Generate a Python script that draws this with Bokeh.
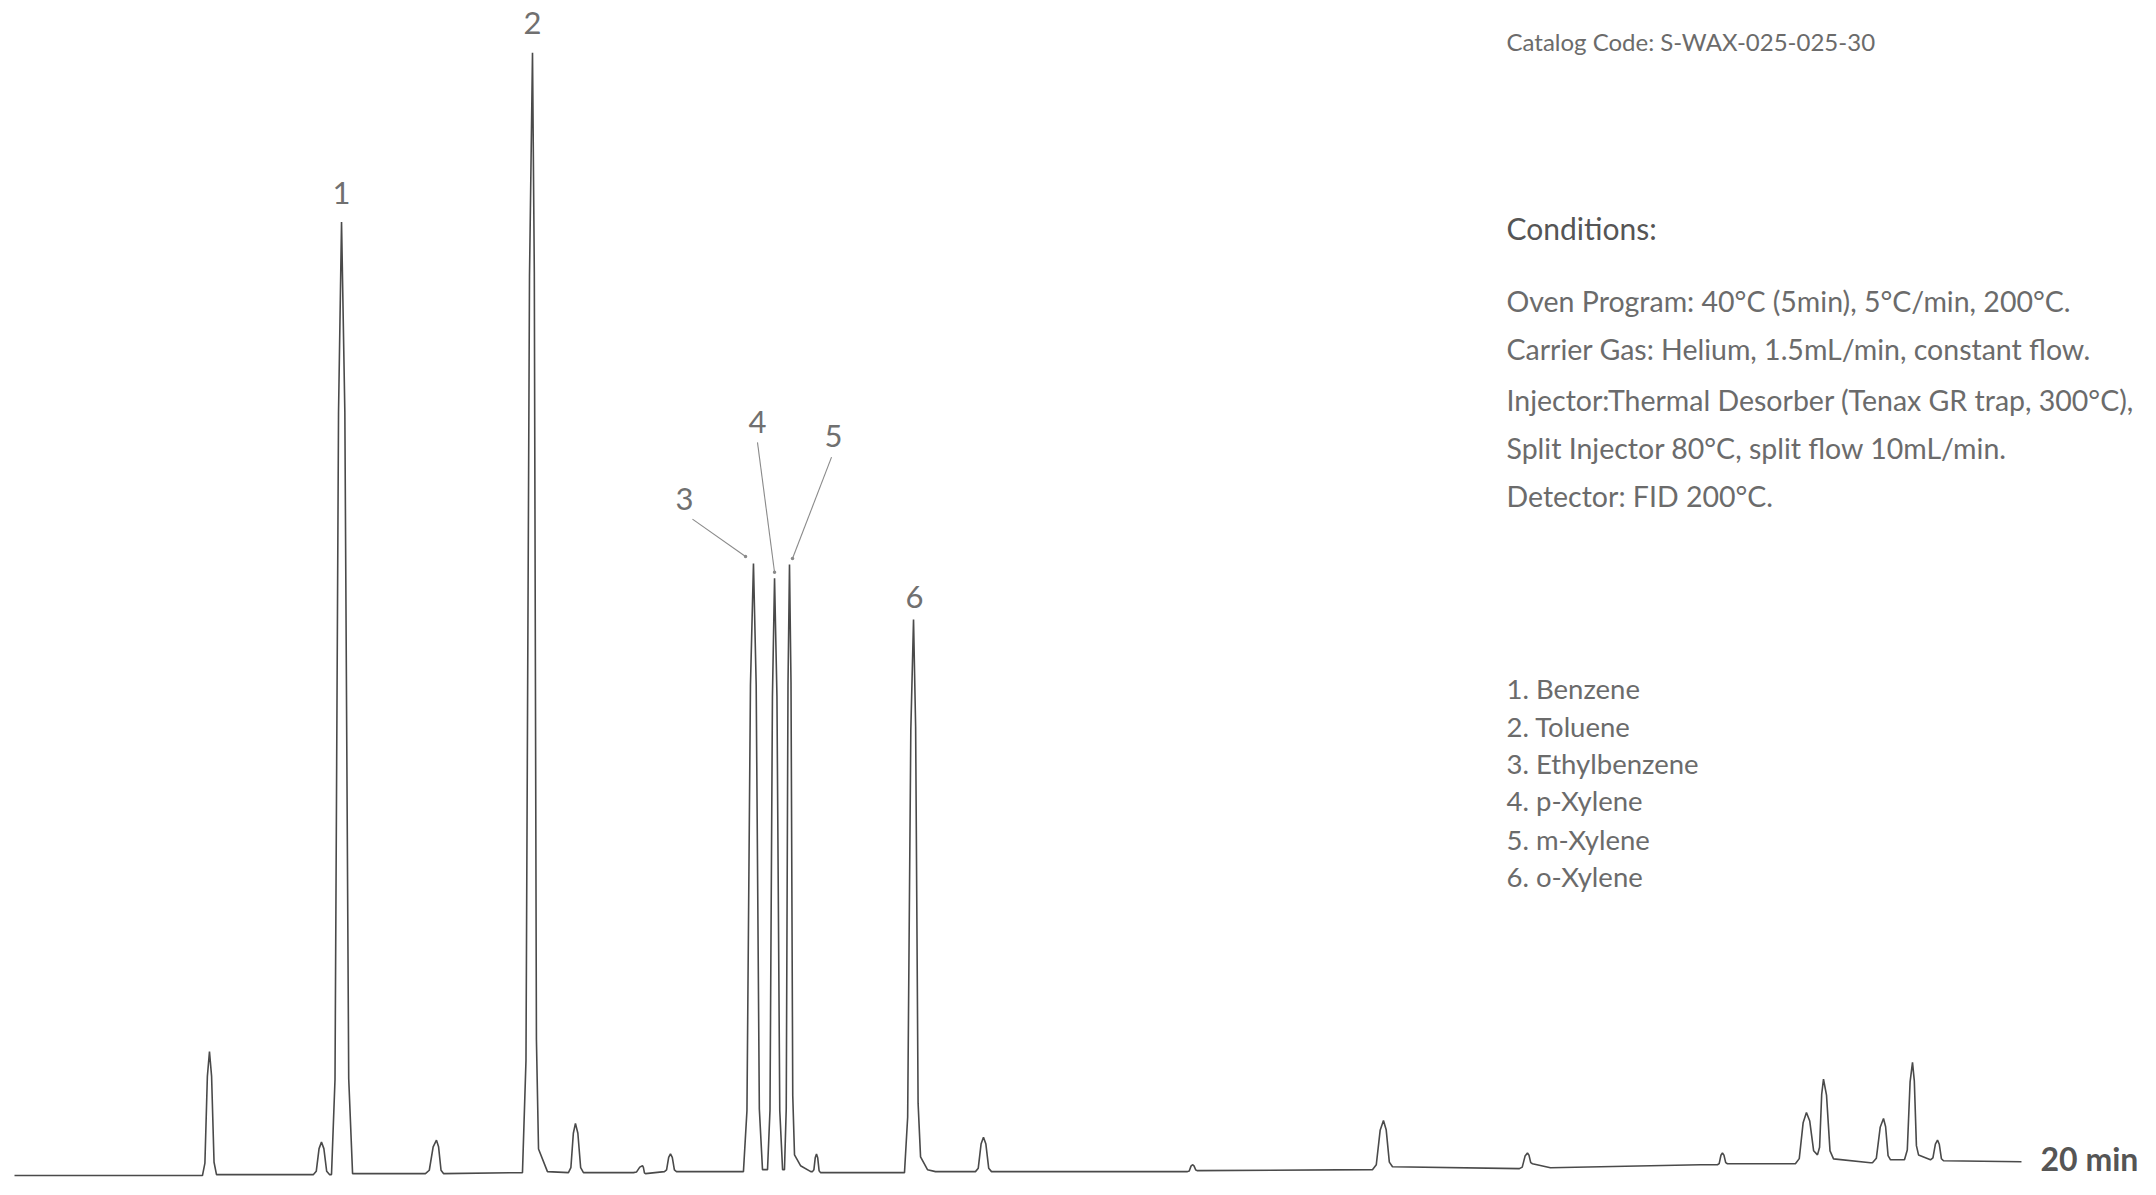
import numpy as np
from bokeh.plotting import figure
from bokeh.models import Range1d, ColumnDataSource
from bokeh.core.properties import value
from bokeh.embed import file_html
from bokeh.resources import INLINE

# ---------------- data ----------------
# retention time of each peak apex (min)
peak_rt = [1.943, 3.059, 3.259, 4.205, 5.162, 5.590, 6.258, 6.537, 7.364, 7.574,
           7.723, 7.992, 8.959, 9.656, 11.739, 13.642, 15.077, 17.020, 17.857,
           18.027, 18.625, 18.914, 19.163]
# detector signal at apex (a.u.)
peak_apex = [127, 35, 970, 37, 1142, 54, 11, 23, 623, 608,
             622, 23, 566, 40, 12, 57, 24, 24, 65,
             99, 59, 116, 37]
# half width at base, left / right (min)
peak_wl = [0.07, 0.08, 0.10, 0.11, 0.10, 0.07, 0.09, 0.06, 0.10, 0.07,
           0.05, 0.04, 0.09, 0.08, 0.05, 0.11, 0.08, 0.05, 0.11,
           0.06, 0.11, 0.08, 0.07]
peak_wr = [0.07, 0.08, 0.11, 0.07, 0.06, 0.08, 0.03, 0.06, 0.09, 0.08,
           0.05, 0.04, 0.07, 0.08, 0.05, 0.09, 0.05, 0.05, 0.11,
           0.10, 0.07, 0.06, 0.06]
# signal level at left / right foot of each peak
base_l = [1, 2, 2, 3, 4, 4, 4, 5, 5, 7, 7, 5, 4, 5, 5, 7, 8, 12, 13, 22, 14, 17, 17]
base_r = [2, 2, 3, 3, 28, 4, 3, 5, 7, 7, 22, 4, 20, 5, 6, 10, 13, 13, 22, 18, 17, 22, 16]
# baseline points between peaks (tails, drift)
base_t = [0.0, 5.311, 7.833, 7.935, 9.098, 9.178, 15.306, 16.801, 18.495, 20.0]
base_v = [1, 5, 11, 5, 7, 5, 9, 12, 14, 15]

# labelled compounds
compound_names = ["Benzene", "Toluene", "Ethylbenzene", "p-Xylene", "m-Xylene", "o-Xylene"]
compound_peak = [2, 4, 8, 9, 10, 12]

conditions = [
    "Oven Program: 40°C (5min), 5°C/min, 200°C.",
    "Carrier Gas: Helium, 1.5mL/min, constant flow.",
    "Injector:Thermal Desorber (Tenax GR trap, 300°C),",
    "Split Injector 80°C, split flow 10mL/min.",
    "Detector: FID 200°C.",
]
catalog = "Catalog Code: S-WAX-025-025-30"

# ---------------- build the trace from the peak table ----------------
SHAPE_W = [-1.0, -0.65, -0.3, 0.0, 0.3, 0.65, 1.0]
SHAPE_H = [0.0, 0.1, 0.8, 1.0, 0.8, 0.1, 0.0]
tt, vv = list(base_t), list(base_v)
for rt, ap, wl, wr, bl, br in zip(peak_rt, peak_apex, peak_wl, peak_wr, base_l, base_r):
    for w, f in zip(SHAPE_W, SHAPE_H):
        if w < 0:
            tt.append(rt + w * wl); vv.append(bl + f * (ap - bl))
        elif w > 0:
            tt.append(rt + w * wr); vv.append(br + f * (ap - br))
        else:
            tt.append(rt); vv.append(ap)
tt = np.array(tt); vv = np.array(vv, dtype=float)
order = np.argsort(tt, kind="stable")
trace = ColumnDataSource(dict(t=tt[order], v=vv[order]))

# ---------------- figure ----------------
W, H = 2140, 1179
X0, X1 = -0.1395, 21.186
Y0, Y1 = -3, 1195
p = figure(width=W, height=H, output_backend="svg", toolbar_location=None,
           x_range=Range1d(X0, X1), y_range=Range1d(Y0, Y1),
           min_border=0, outline_line_color=None, background_fill_color="white",
           border_fill_color="white")
p.axis.visible = False
p.grid.visible = False


def xt(px):  # screen pixel (from left) -> data x, for annotation placement
    return X0 + px * (X1 - X0) / W


def yv(py):  # screen pixel (from top) -> data y, for annotation placement
    return Y1 - py * (Y1 - Y0) / H


p.line("t", "v", source=trace, line_color="#4a4a4a", line_width=1.6)

FONT = value("Lato")
TXT = "#6b6b6b"

# peak number labels (placed relative to the peaks)
lab_t = [3.259, 5.162, 6.677, 7.404, 8.162, 8.969]
lab_v = [999, 1172, 688, 767, 752, 589]
p.text(x=lab_t, y=lab_v, text=[str(i + 1) for i in range(6)], text_font=FONT,
       text_font_size=value("31px"), text_color="#707070", text_align="center",
       text_baseline="middle")

# leader lines for peaks 3, 4, 5
lead_x0 = [6.756, 7.404, 8.142]
lead_y0 = [668, 746, 731]
lead_x1 = [peak_rt[compound_peak[k]] + d for k, d in zip([2, 3, 4], [-0.079, 0.0, 0.030])]
lead_y1 = [peak_apex[compound_peak[k]] + d for k, d in zip([2, 3, 4], [7, 6, 6])]
p.segment(x0=lead_x0, y0=lead_y0, x1=lead_x1, y1=lead_y1, line_color="#8a8a8a", line_width=1.1)
p.scatter(x=lead_x1, y=lead_y1, size=3.5, fill_color="#8a8a8a", line_color=None)

# header / conditions
TX = xt(1506)
p.text(x=[TX], y=[yv(41)], text=[catalog], text_font=FONT, text_font_size=value("24px"),
       text_color=TXT, text_baseline="middle")
p.text(x=[TX], y=[yv(227)], text=["Conditions:"], text_font=FONT, text_font_size=value("30px"),
       text_color="#555555", text_baseline="middle")
p.text(x=[TX] * 5, y=[yv(py) for py in (300, 348, 399, 447, 495)], text=conditions,
       text_font=FONT, text_font_size=value("28.5px"), text_color=TXT, text_baseline="middle")

# compound list
p.text(x=[TX] * 6, y=[yv(py) for py in (688, 726, 763, 800, 839, 876)],
       text=[f"{i + 1}. {n}" for i, n in enumerate(compound_names)], text_font=FONT,
       text_font_size=value("27.5px"), text_color=TXT, text_baseline="middle")

# end of time axis
p.text(x=[xt(2040)], y=[18], text=["20 min"], text_font=FONT, text_font_size=value("32px"),
       text_font_style="bold", text_color="#555555", text_baseline="middle")

open("out.html", "w").write(file_html(p, INLINE))
